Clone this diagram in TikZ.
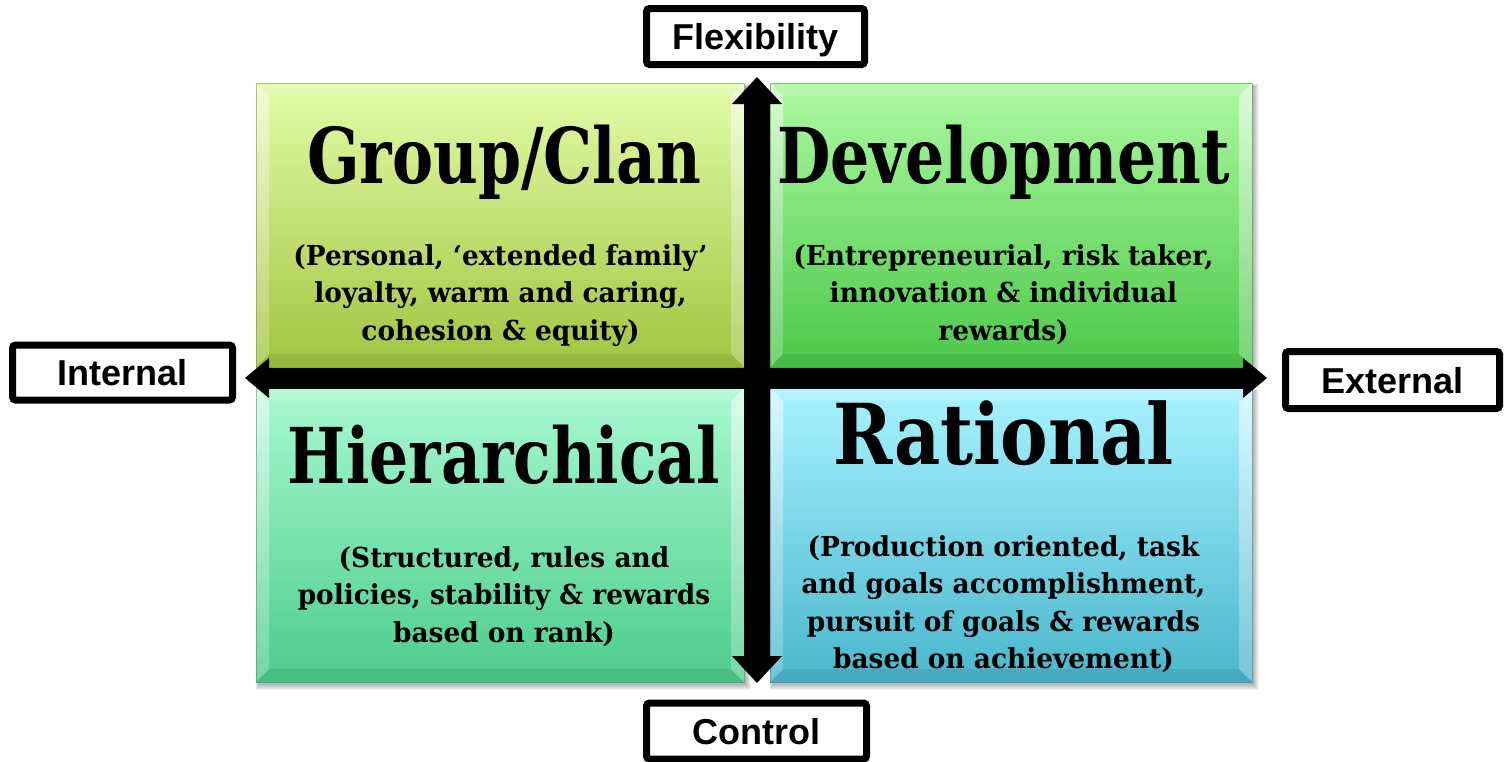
\documentclass[tikz,border=0pt]{standalone}
\usepackage{fontspec}
\setmainfont{Liberation Sans}
\newfontfamily\slabfont[FakeStretch=0.8]{DejaVu Serif}
\newfontfamily\slabwide[FakeStretch=0.85]{DejaVu Serif}
\newfontfamily\slabtext[FakeStretch=0.96]{DejaVu Serif}
\usetikzlibrary{arrows.meta}

\definecolor{clanTop}{HTML}{E2FCA8}\definecolor{clanBot}{HTML}{A2C440}
\definecolor{devTop}{HTML}{ACF9A0}\definecolor{devBot}{HTML}{4CC84A}
\definecolor{hierTop}{HTML}{A8F9D2}\definecolor{hierBot}{HTML}{4CCC8C}
\definecolor{ratTop}{HTML}{A8F3FF}\definecolor{ratBot}{HTML}{4AB6CC}

% bevelled panel: x1 y1 x2 y2 topcolour bottomcolour
\newcommand\bevelpanel[6]{%
  \foreach \s in {0,...,5}{%
    \fill[black,opacity=0.05] (#1+2-\s*0.5,#2+3-\s*0.5) rectangle (#3+2+\s,#4+3+\s);}
  \shade[top color=#5,bottom color=#6] (#1,#2) rectangle (#3,#4);
  \fill[white,opacity=0.15] (#1,#2) -- (#3,#2) -- (#3-13,#2+13) -- (#1+13,#2+13) -- cycle;
  \fill[black,opacity=0.07] (#1,#4) -- (#3,#4) -- (#3-13,#4-13) -- (#1+13,#4-13) -- cycle;
  \shade[top color=white,bottom color=#6!60!white,opacity=0.55]
    (#1,#2) -- (#1+13,#2+13) -- (#1+13,#4-13) -- (#1,#4) -- cycle;
  \shade[top color=white,bottom color=white!40!#6,opacity=0.6]
    (#3,#2) -- (#3-13,#2+13) -- (#3-13,#4-13) -- (#3,#4) -- cycle;
  \draw[#6!70!black,opacity=0.5,line width=1pt] (#1,#2) rectangle (#3,#4);
}

\begin{document}
\begin{tikzpicture}[x=1pt,y=-1pt,
  axislabel/.style={draw=black,line width=7pt,fill=white,rounded corners=3pt,
    inner sep=0pt,text height=26pt,text depth=0pt,
    font=\fontsize{36}{40}\selectfont\bfseries},
  heading/.style={anchor=base,inner sep=0pt,
    font=\slabfont\bfseries\fontsize{77}{80}\selectfont},
  blurb/.style={anchor=base,inner sep=0pt,text width=480pt,align=center,
    font=\slabtext\bfseries\fontsize{27.5}{37.5}\selectfont},
  vaxis/.style={line width=26pt,
    {Triangle[length=27pt,width=50pt,line width=0pt]}-{Triangle[length=27pt,width=50pt,line width=0pt]}},
  haxis/.style={line width=21pt,
    {Triangle[length=24pt,width=40pt,line width=0pt]}-{Triangle[length=24pt,width=40pt,line width=0pt]}}
]
\useasboundingbox (0,0) rectangle (1505,761);
\fill[white] (0,0) rectangle (1505,761);

% four quadrant panels
\bevelpanel{256}{83}{744}{367}{clanTop}{clanBot}
\bevelpanel{770}{83}{1252}{367}{devTop}{devBot}
\bevelpanel{256}{388}{744}{682}{hierTop}{hierBot}
\bevelpanel{770}{388}{1252}{682}{ratTop}{ratBot}

% headings
\node[heading] (clan) at (504,183) {Group/Clan};
\node[heading] (dev) at (1003.5,183) {Development};
\node[heading] (hier) at (504,483) {Hierarchical};
\node[heading,font=\slabwide\bfseries\fontsize{84}{88}\selectfont] (rat) at (1003.5,464) {Rational};

% descriptions
\node[blurb] (clantxt) at (500.5,265) {(Personal, ‘extended family’\\loyalty, warm and caring,\\cohesion \& equity)};
\node[blurb] (devtxt) at (1003.5,265) {(Entrepreneurial, risk taker,\\innovation \& individual\\rewards)};
\node[blurb] (hiertxt) at (504,567) {(Structured, rules and\\policies, stability \& rewards\\based on rank)};
\node[blurb] (rattxt) at (1003.5,556) {(Production oriented, task\\and goals accomplishment,\\pursuit of goals \& rewards\\based on achievement)};

% axes
\coordinate (up) at (757,77);
\coordinate (down) at (757,683);
\coordinate (left) at (245,378);
\coordinate (right) at (1267,378);
\draw[vaxis] (up) -- (down);
\draw[haxis] (left) -- (right);

% axis labels
\node[axislabel,minimum width=218pt,minimum height=56pt] (flex) at (755.5,36.5) {Flexibility};
\node[axislabel,minimum width=220pt,minimum height=55pt] (internal) at (122.5,372.5) {Internal};
\node[axislabel,minimum width=214pt,minimum height=57pt] (external) at (1392.5,380) {External};
\node[axislabel,minimum width=220pt,minimum height=56pt] (control) at (756.5,731) {Control};
\end{tikzpicture}
\end{document}
